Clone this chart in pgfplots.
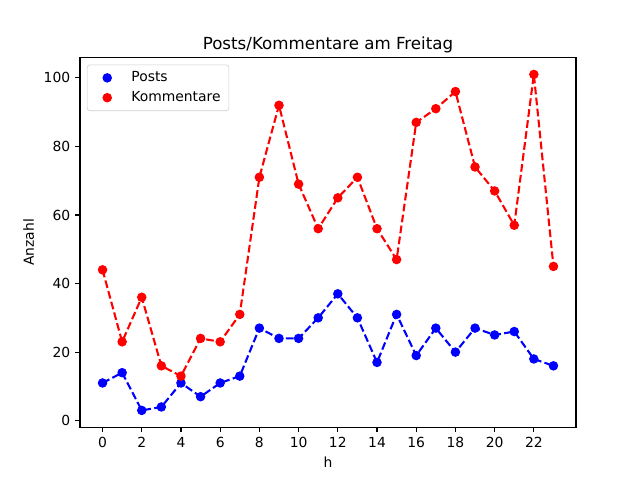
\documentclass[border=0pt]{standalone}
\usepackage{fontspec}
\setmainfont{DejaVu Sans}
\usepackage{pgfplots}
\usepackage{pgfplotstable}
\pgfplotsset{compat=1.18}
\pgfplotstableread{
h posts komm
0 11 44
1 14 23
2 3 36
3 4 16
4 11 13
5 7 24
6 11 23
7 13 31
8 27 71
9 24 92
10 24 69
11 30 56
12 37 65
13 30 71
14 17 56
15 31 47
16 19 87
17 27 91
18 20 96
19 27 74
20 25 67
21 26 57
22 18 101
23 16 45
}\data
\begin{document}
\begin{tikzpicture}
\useasboundingbox (-57.6pt,-38.016pt) rectangle (403.2pt,307.584pt);
\begin{axis}[
  at={(0,0)}, anchor=south west,
  scale only axis,
  width=357.12pt, height=266.112pt,
  xmin=-1.15, xmax=24.15,
  ymin=-1.9, ymax=105.9,
  xtick={0,2,...,22},
  ytick={0,20,...,100},
  tick align=outside,
  tick pos=left,
  major tick length=3.5pt,
  every tick/.style={black, line width=0.8pt},
  axis line style={line width=0.8pt},
  /pgf/number format/assume math mode=true,
  tick label style={font=\fontsize{10}{12}\selectfont},
  label style={font=\fontsize{10}{12}\selectfont},
  xlabel={h}, ylabel={Anzahl},
  title={Posts/Kommentare am Freitag},
  title style={font=\fontsize{12}{14}\selectfont, yshift=-6.3pt},
  legend cell align=left,
  legend style={at={(0,1)}, anchor=north west, xshift=5pt, yshift=-5pt,
    draw=white!80!black, rounded corners=2pt, fill=white, fill opacity=0.8, draw opacity=1, text opacity=1,
    font=\fontsize{10}{12}\selectfont, inner xsep=4pt, inner ysep=3pt,
    row sep=1.5pt},
  legend image code/.code={\path (0pt,0pt) (25pt,0pt); \draw[#1, fill opacity=1, draw opacity=1] plot coordinates {(10pt,0pt)};},
]
\addplot[blue, line width=1.5pt, dash pattern=on 5.55pt off 2.4pt, forget plot] table[x=h,y=posts]{\data};
\addplot[red, line width=1.5pt, dash pattern=on 5.55pt off 2.4pt, forget plot] table[x=h,y=komm]{\data};
\addplot[blue, only marks, mark=*, mark size=3pt, line width=0.8pt, mark options={solid}] table[x=h,y=posts]{\data};
\addlegendentry{Posts}
\addplot[red, only marks, mark=*, mark size=3pt, line width=0.8pt, mark options={solid}] table[x=h,y=komm]{\data};
\addlegendentry{Kommentare}
\end{axis}
\end{tikzpicture}
\end{document}
